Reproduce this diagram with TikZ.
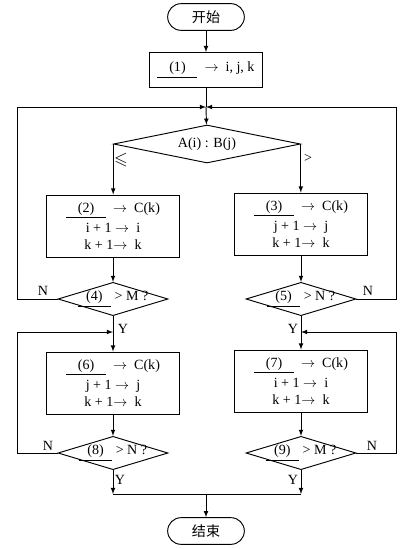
\documentclass[tikz,border=0pt]{standalone}
\usepackage{fontspec}
\usepackage{amssymb}
\setmainfont{Liberation Serif}
\newfontfamily\cjk{Noto Sans CJK SC}
\usetikzlibrary{shapes.geometric, arrows, calc}

\newcommand{\blank}[1]{\underline{\makebox[1.2cm]{#1}}}
\newcommand{\cblank}[1]{\underline{\makebox[1.0cm]{#1}}}
\newcommand{\condtext}[1]{\makebox[0pt]{#1}}

\begin{document}
\begin{tikzpicture}[x=0.03cm, y=-0.03cm, thick, >=latex,
term/.style={draw, rounded corners=0.4cm, minimum width=2.3cm, minimum height=0.8cm, font=\cjk\fontsize{12}{14}\selectfont},
proc/.style={draw, align=center, minimum width=4cm, minimum height=1.86cm, font=\fontsize{12}{14.5}\selectfont},
cond/.style={draw, diamond, aspect=4, inner sep=0pt, minimum width=3.3cm, minimum height=1cm, font=\fontsize{12}{14}\selectfont},
lbl/.style={font=\fontsize{12}{14}\selectfont, inner sep=1pt}]

\useasboundingbox (0,0) rectangle (410,549);

%start
\node[term] (start) at (206,17) {开始};
\node[proc, minimum width=3.4cm, minimum height=1.05cm] (p1) at (206,70) {\blank{(1)} \ $\rightarrow$ \ i, j, k};
\node[cond, minimum width=5.6cm, minimum height=1.14cm] (cmp) at (207,144) {\condtext{A(i) : B(j)}};

%first pass
\node[proc] (p2) at (113,226) {\blank{(2)} \ $\rightarrow$ \ C(k)\\[2pt] i + 1 $\rightarrow$ \ i\\ k + 1$\rightarrow$ \ k};
\node[proc] (p3) at (301,224) {\blank{(3)} \ $\rightarrow$ \ C(k)\\[2pt] j + 1 $\rightarrow$ \ j\\ k + 1$\rightarrow$ \ k};
\node[cond] (c4) at (113,299) {\condtext{\cblank{(4)} > M ?}};
\node[cond] (c5) at (301,299) {\condtext{\cblank{(5)} > N ?}};

%rest
\node[proc] (p6) at (113,383) {\blank{(6)} \ $\rightarrow$ \ C(k)\\[2pt] j + 1 $\rightarrow$ \ j\\ k + 1$\rightarrow$ \ k};
\node[proc] (p7) at (301,381) {\blank{(7)} \ $\rightarrow$ \ C(k)\\[2pt] i + 1 $\rightarrow$ \ i\\ k + 1$\rightarrow$ \ k};
\node[cond] (c8) at (113,453) {\condtext{\cblank{(8)} > N ?}};
\node[cond] (c9) at (301,453) {\condtext{\cblank{(9)} > M ?}};
\node[term] (stop) at (206,531) {结束};

\coordinate (m) at (206,107);
\coordinate (lft) at (17,107);
\coordinate (rgt) at (396,107);
\coordinate (m6) at (113,332);
\coordinate (m7) at (301,332);
\coordinate (lft6) at (17,332);
\coordinate (rgt7) at (396,332);
\coordinate (b8) at (113,494);
\coordinate (b9) at (301,494);
\coordinate (b) at (206,494);

\draw[->] (start) -- (p1);
\draw (p1) -- (m);
\draw[->] (m) -- (cmp);
\draw[->] (cmp.west) -- (cmp.west |- p2.north);
\draw[->] (cmp.east) -- (cmp.east |- p3.north);
\draw[->] (p2) -- (c4);
\draw[->] (p3) -- (c5);
\draw[->] (c4.west) -| (lft) -- (m);
\draw[->] (c5.east) -| (rgt) -- (m);
\draw[->] (c4) -- (p6);
\draw[->] (c5) -- (p7);
\draw[->] (p6) -- (c8);
\draw[->] (p7) -- (c9);
\draw[->] (c8.west) -| (lft6) -- (m6);
\draw[->] (c9.east) -| (rgt7) -- (m7);
\draw[->] (c8) -- (b8);
\draw[->] (c9) -- (b9);
\draw (b8) -- (b9);
\draw[->] (b) -- (stop);

%branch labels
\node[lbl, font=\fontsize{15}{16}\selectfont] (le) at (121,160) {$\leqslant$};
\node[lbl] (gt) at (308,158) {>};
\foreach \n/\x/\y/\t in {n4/43/291/N, n5/368/291/N, y4/123/329/Y, y5/293/329/Y,
  n8/48/446/N, n9/372/446/N, y8/120/480/Y, y9/293/480/Y}
  \node[lbl] (\n) at (\x,\y) {\t};
\end{tikzpicture}
\end{document}
